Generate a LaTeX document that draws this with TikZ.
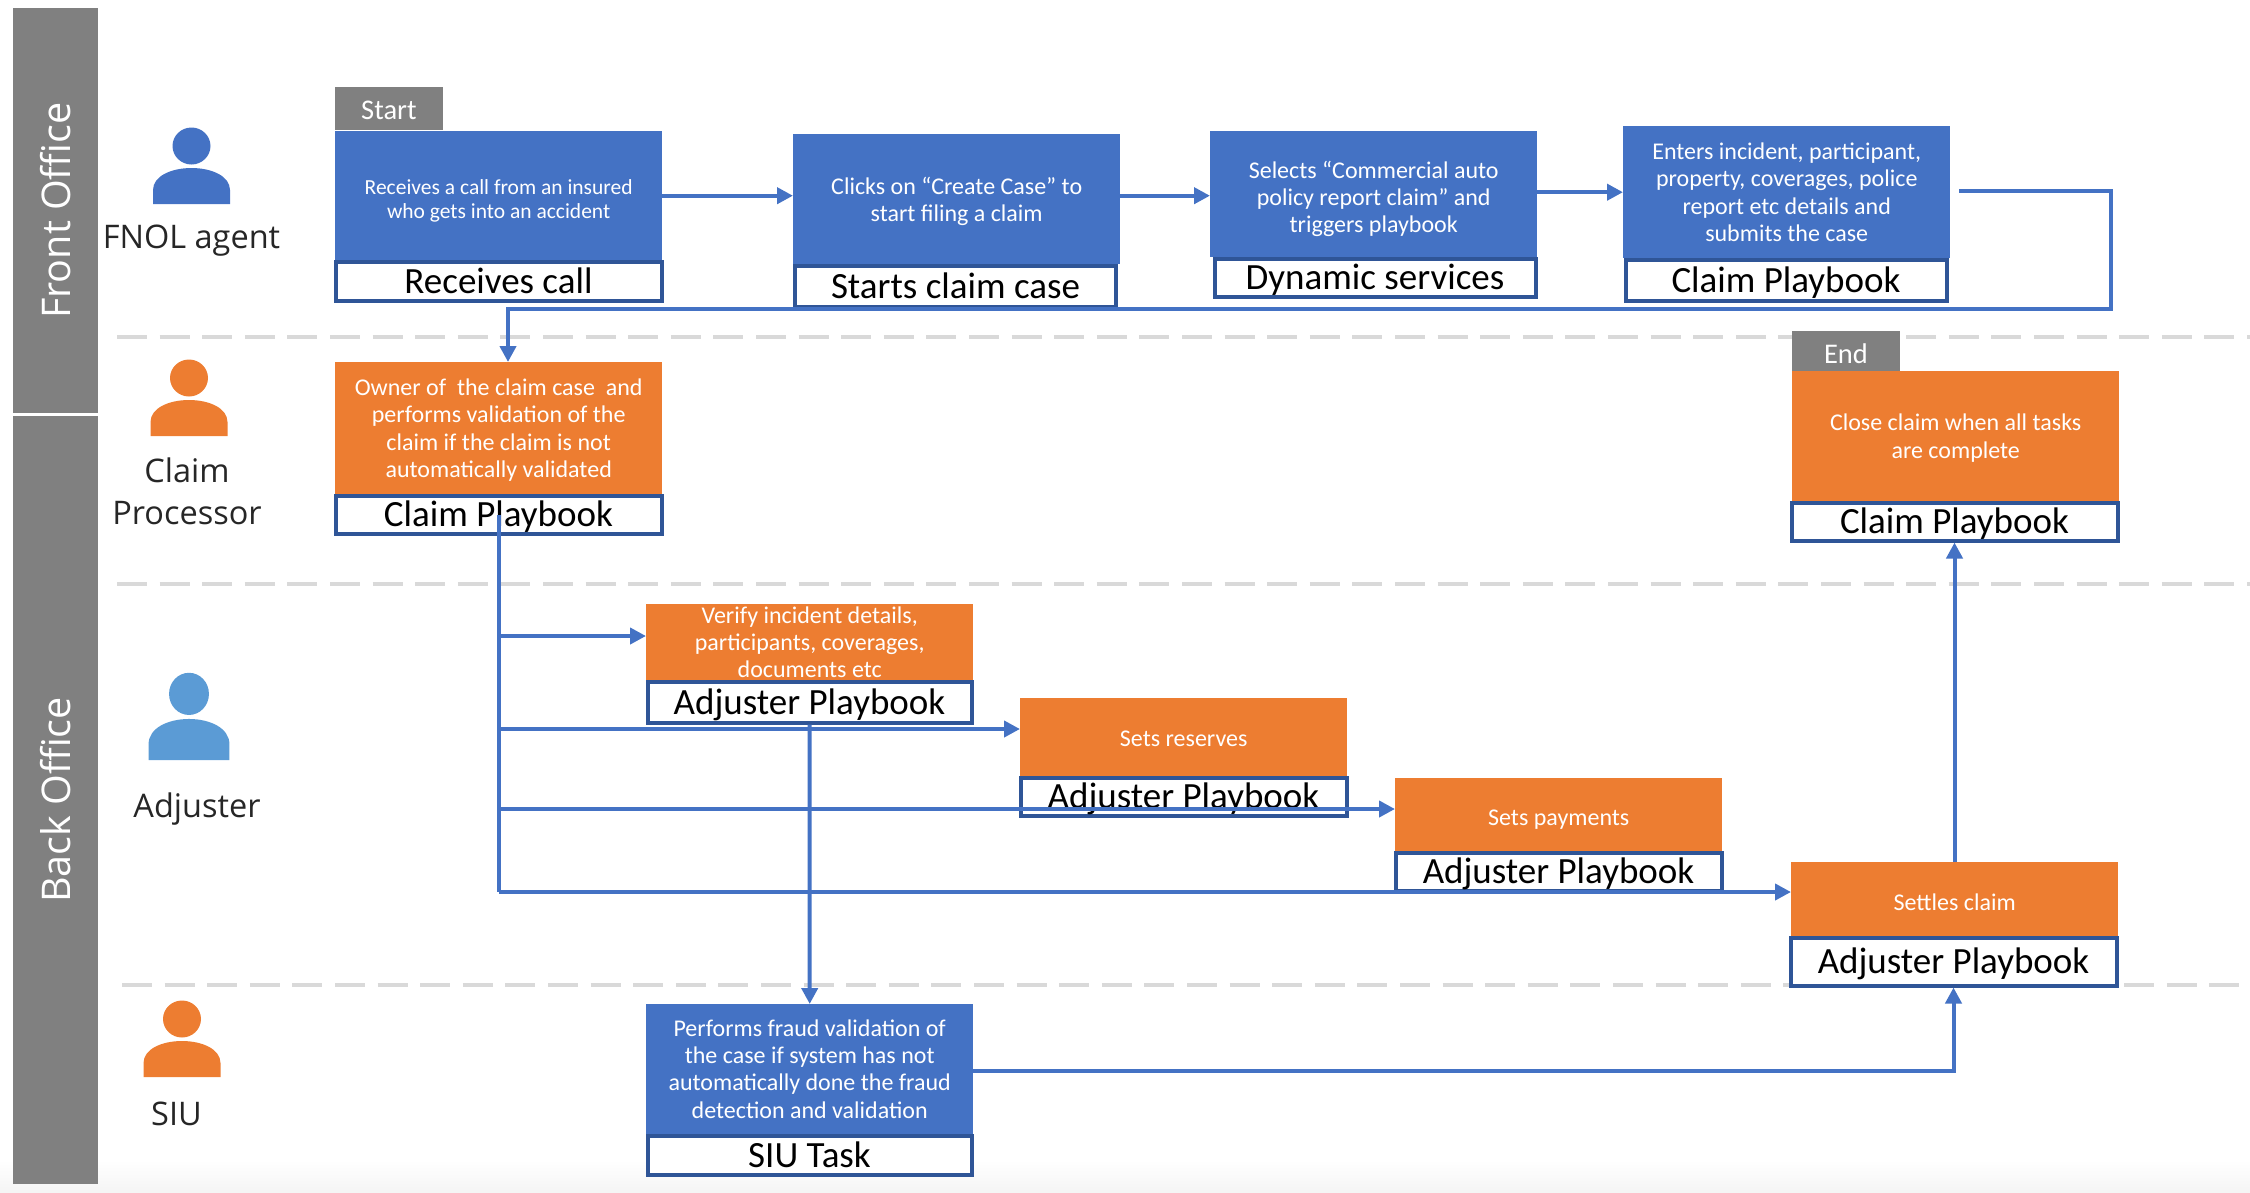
\documentclass[tikz,border=0pt]{standalone}
\usepackage{fontspec}
\setmainfont{Carlito}
\newfontfamily\personfont{Open Sans}
\usetikzlibrary{positioning, arrows.meta, calc}

\definecolor{stepblue}{HTML}{4472C4}
\definecolor{steporange}{HTML}{ED7D31}
\definecolor{capblue}{HTML}{2F5597}
\definecolor{bandgray}{HTML}{808080}
\definecolor{lanegray}{HTML}{D9D9D9}
\definecolor{adjblue}{HTML}{5B9BD5}

\newcommand{\lowline}{\rule{0pt}{22pt}}

\tikzset{
  x=1pt, y=-1pt,
  stepbox/.style={anchor=north west, inner sep=0pt, minimum width=327pt, text=white, align=center,
    text depth=0pt, execute at begin node={\rule{0pt}{19pt}}, font=\fontsize{24}{27.2}\selectfont},
  lowtext/.style={execute at begin node={\rule{0pt}{22pt}}},
  bluebox/.style={stepbox, fill=stepblue},
  orangebox/.style={stepbox, fill=steporange},
  capbox/.style={anchor=north west, xshift=-1.5pt, draw=capblue, line width=4pt, fill=white, inner sep=0pt,
    minimum width=326pt, text height=29pt, text depth=5pt, font=\fontsize{37}{42}\selectfont},
  tagbox/.style={anchor=north west, fill=bandgray, text=white, inner sep=0pt, minimum width=107.5pt,
    minimum height=43pt, text height=22pt, text depth=0pt, font=\fontsize{28.5}{32}\selectfont},
  band/.style={fill=bandgray, text=white, rotate=90, inner sep=0pt, minimum height=84.5pt,
    font=\personfont\fontsize{39.5}{44}\selectfont},
  lane/.style={lanegray, line width=4pt, dash pattern=on 30pt off 12.6pt},
  flow/.style={stepblue, line width=4pt, -{Triangle[length=16pt,width=16pt]}},
  flowplain/.style={stepblue, line width=4pt},
  who/.style={inner sep=0pt, align=center, text=black!85, font=\personfont\fontsize{32.5}{42}\selectfont},
  person/.pic={
    \fill (-38.5,0) -- (-38.5,-14) .. controls (-38.5,-28) and (-20,-36) .. (0,-36)
      .. controls (20,-36) and (38.5,-28) .. (38.5,-14) -- (38.5,0) -- cycle;
    \fill (0,-58) circle[x radius=19, y radius=18.5];
  }
}

\begin{document}
\begin{tikzpicture}
  \useasboundingbox (0,0) rectangle (2250,1192);
  \shade[top color=white, bottom color=black!4] (0,1160) rectangle (2250,1192);

  % Lane separators
  \draw[lane] (117,337) -- (2250,337);
  \draw[lane] (117,584) -- (2250,584);
  \draw[lane] (122,985) -- (2240,985);

  % Office bands
  \node[band, minimum width=405pt] (front) at (55.25,210.5) {Front Office};
  \node[band, minimum width=768pt] (back) at (55.25,800) {Back Office};

  % People
  \pic[fill=stepblue] at (191.5,204) {person};
  \node[who] (fnol) at (191.5,241) {FNOL agent};
  \pic[fill=steporange] at (189,436) {person};
  \node[who] (processor) at (187,491) {Claim\\Processor};
  \pic[fill=adjblue, xscale=1.05, yscale=1.14] at (189,760) {person};
  \node[who] (adjuster) at (197,809) {Adjuster};
  \pic[fill=steporange] at (182,1077) {person};
  \node[who] (siu) at (176.5,1114) {SIU};

  % Front office row
  \node[tagbox] (start) at (335,87) {Start};
  \node[bluebox, minimum height=129pt, font=\fontsize{21.5}{24.5}\selectfont] (call) at (335,131)
    {\lowline Receives a call from an insured\\who gets into an accident};
  \node[capbox, minimum height=38.5pt] (callcap) at (335,260) {Receives call};

  \node[bluebox, minimum height=130pt] (create) at (793,134) {Clicks on “Create Case” to\\start filing a claim};
  \node[capbox, minimum height=40.5pt, minimum width=321pt] (createcap) at (794.5,264) {Starts claim case};

  \node[bluebox, minimum height=126pt] (select) at (1210,131)
    {\lowline Selects “Commercial auto\\policy report claim” and\\triggers playbook};
  \node[capbox, minimum height=37.5pt, minimum width=321pt] (selectcap) at (1214,257) {Dynamic services};

  \node[bluebox, minimum height=132pt] (enter) at (1623,126)
    {Enters incident, participant,\\property, coverages, police\\report etc details and\\submits the case};
  \node[capbox, minimum height=40.5pt, minimum width=321pt] (entercap) at (1625,258) {Claim Playbook};

  % Claim processor row
  \node[orangebox, minimum height=132pt] (owner) at (335,362)
    {Owner of~~the claim case~~and\\performs validation of the\\claim if the claim is not\\automatically validated};
  \node[capbox, minimum height=37.5pt] (ownercap) at (335,494) {Claim Playbook};

  \node[tagbox] (finish) at (1792,331) {End};
  \node[orangebox, minimum height=130pt] (close) at (1792,371) {Close claim when all tasks\\are complete};
  \node[capbox, minimum height=38pt] (closecap) at (1791,500.5) {Claim Playbook};

  % Adjuster row
  \node[orangebox, minimum height=77pt] (verify) at (646,603.5)
    {Verify incident details,\\participants, coverages,\\documents etc};
  \node[capbox, minimum height=40.5pt, minimum width=324pt] (verifycap) at (647,680) {Adjuster Playbook};

  \node[orangebox, minimum height=78pt] (reserves) at (1020,698) {Sets reserves};
  \node[capbox, minimum height=37.5pt] (reservescap) at (1020,776) {Adjuster Playbook};

  \node[orangebox, lowtext, minimum height=73pt] (payments) at (1395,778) {Sets payments};
  \node[capbox, minimum height=37.5pt] (paymentscap) at (1395,851) {Adjuster Playbook};

  \node[orangebox, lowtext, minimum height=74pt] (settle) at (1791,862) {Settles claim};
  \node[capbox, minimum height=47.5pt] (settlecap) at (1790,936) {Adjuster Playbook};

  % SIU row
  \node[bluebox, minimum height=129.5pt] (fraud) at (646,1004)
    {Performs fraud validation of\\the case if system has not\\automatically done the fraud\\detection and validation};
  \node[capbox, minimum height=39pt, minimum width=324pt] (fraudcap) at (647,1133.5) {SIU Task};

  % Free ends and bends
  \coordinate (enterout) at (1959,191);
  \coordinate (backright) at (2111,191);
  \coordinate (backlow) at (2111,309);
  \coordinate (backleft) at (508,309);
  \coordinate (branchverify) at (498.5,636);
  \coordinate (branchreserves) at (498.5,729);
  \coordinate (branchpayments) at (498.5,809);
  \coordinate (branchsettle) at (498.5,892);
  \coordinate (fraudturn) at (1953.5,1071);

  % Connectors
  \draw[flow] (call.east) -- (call.east -| create.west);
  \draw[flow] (create.east |- call.east) -- (select.west |- call.east);
  \draw[flow] (select.east |- enter.west) -- (enter.west);
  \draw[flow] (enterout) -- (backright) -- (backlow) -- (backleft) -- (backleft |- owner.north);

  \draw[flowplain] (ownercap.center) -- (branchsettle);
  \draw[flow] (branchverify) -- (branchverify -| verify.west);
  \draw[flow] (branchreserves) -- (branchreserves -| reserves.west);
  \draw[flow] (branchpayments) -- (branchpayments -| payments.west);
  \draw[flow] (branchsettle) -- (branchsettle -| settle.west);

  \draw[flow] (verifycap.south) -- (fraud.north);
  \draw[flow] (fraud.east |- fraudturn) -- (fraudturn) -- (fraudturn |- settlecap.south);
  \draw[flow] (closecap.south |- settle.north) -- (closecap.south);
\end{tikzpicture}
\end{document}
